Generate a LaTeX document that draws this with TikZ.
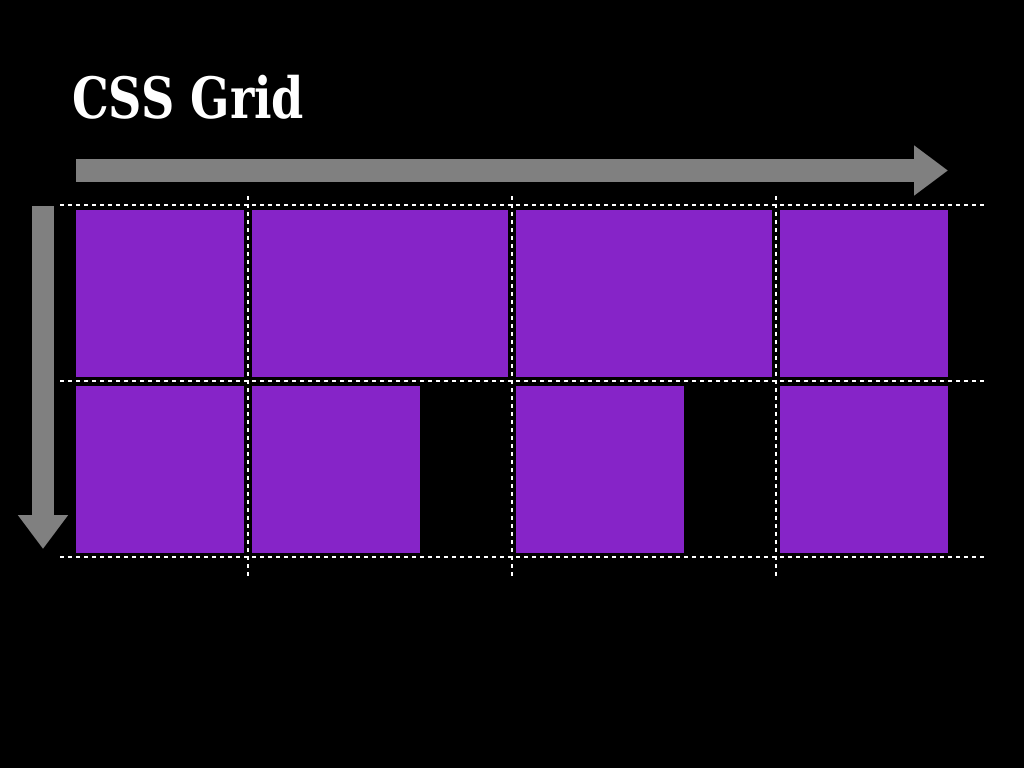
\documentclass[tikz,border=0pt]{standalone}
\usepackage{fontspec}
\setmainfont{DejaVu Serif}
\usetikzlibrary{arrows.meta, positioning}

\definecolor{cellPurple}{RGB}{134,36,200}
\definecolor{trackGray}{RGB}{128,128,128}

\begin{document}
\begin{tikzpicture}[
  x=1pt, y=-1pt,
  gridCell/.style={
    fill=cellPurple, draw=none, inner sep=0pt, outer sep=0pt,
    minimum height=167pt, anchor=north west
  },
  narrowCell/.style={gridCell, minimum width=168pt},
  wideCell/.style={gridCell, minimum width=256pt},
  gridLine/.style={draw=white, line width=1.8pt, dash pattern=on 4pt off 4pt},
  trackArrow/.style={
    draw=trackGray, line width=23pt,
    -{Triangle[length=34pt, width=48pt]}
  },
  titleText/.style={font=\fontsize{57}{66}\selectfont\bfseries, text=white, inner sep=0pt, anchor=base west}
]

\fill[black] (0,0) rectangle (1024,768);

\node[titleText] (title) at (72,118) {\scalebox{0.81}[1]{CSS Grid}};

% first row
\node[narrowCell] (a1) at (76,210) {};
\node[wideCell]   (a2) at (252,210) {};
\node[wideCell]   (a3) at (516,210) {};
\node[narrowCell] (a4) at (780,210) {};

% second row
\node[narrowCell] (b1) at (76,386) {};
\node[narrowCell] (b2) at (252,386) {};
\node[narrowCell] (b3) at (516,386) {};
\node[narrowCell] (b4) at (780,386) {};

% grid lines
\foreach \y in {205,381,557}
  \draw[gridLine] (60,\y) -- (985,\y);
\foreach \x in {248,512,776}
  \draw[gridLine] (\x,196) -- (\x,576);

% axis arrows
\coordinate (rowStart) at (76,170.5);
\coordinate (rowEnd) at (948,170.5);
\coordinate (colStart) at (43,206);
\coordinate (colEnd) at (43,549);
\draw[trackArrow] (rowStart) -- (rowEnd);
\draw[trackArrow, line width=22pt] (colStart) -- (colEnd);
\end{tikzpicture}
\end{document}
